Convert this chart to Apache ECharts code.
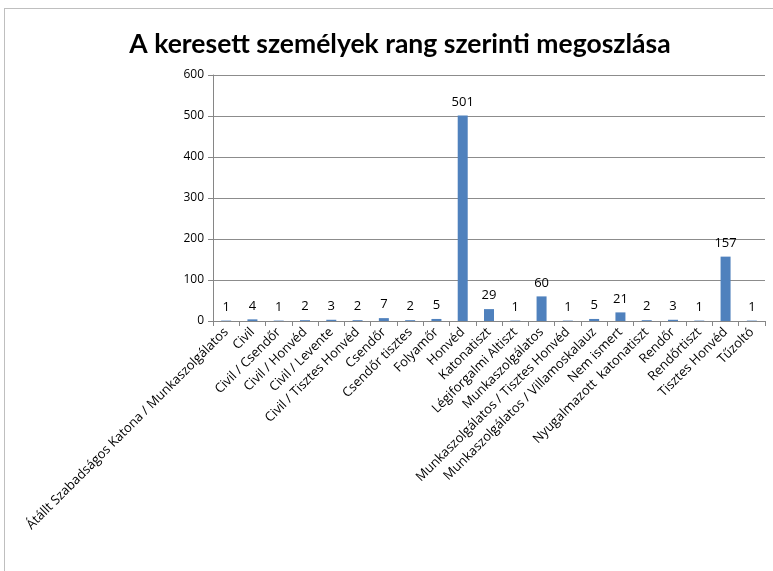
<!DOCTYPE html>
<html>
<head>
<meta charset="utf-8">
<script src="https://cdn.jsdelivr.net/npm/echarts@6/dist/echarts.min.js"></script>
<style>
  html, body { margin: 0; padding: 0; background: #fff; }
  .frame {
    position: absolute; left: 4px; top: 8px; width: 790px; height: 580px;
    border: 1px solid #bfbfbf; box-sizing: border-box;
  }
  #chart { position: absolute; left: 0; top: 0; width: 773px; height: 571px; }
</style>
</head>
<body>
<div class="frame"></div>
<div id="chart"></div>
<script>
const titleText = "A keresett személyek rang szerinti megoszlása";
const categories = [
  "Átállt Szabadságos Katona / Munkaszolgálatos",
  "Civil",
  "Civil / Csendőr",
  "Civil / Honvéd",
  "Civil / Levente",
  "Civil / Tisztes Honvéd",
  "Csendőr",
  "Csendőr tisztes",
  "Folyamőr",
  "Honvéd",
  "Katonatiszt",
  "Légiforgalmi Altiszt",
  "Munkaszolgálatos",
  "Munkaszolgálatos / Tisztes Honvéd",
  "Munkaszolgálatos / Villamoskalauz",
  "Nem ismert",
  "Nyugalmazott  katonatiszt",
  "Rendőr",
  "Rendőrtiszt",
  "Tisztes Honvéd",
  "Tűzoltó"
];
const counts = [1, 4, 1, 2, 3, 2, 7, 2, 5, 501, 29, 1, 60, 1, 5, 21, 2, 3, 1, 157, 1];

const chart = echarts.init(document.getElementById("chart"));
const options = {
  animation: false,
  title: {
    text: titleText,
    left: 395,
    textAlign: "center",
    top: 26,
    textStyle: { fontFamily: "Lato", fontWeight: "bold", fontSize: 26.5, color: "#000" }
  },
  grid: { left: 213, top: 75, width: 552, height: 246, containLabel: false },
  xAxis: {
    type: "category",
    data: categories,
    axisLine: { lineStyle: { color: "#868686" } },
    axisTick: { show: true, alignWithLabel: false, length: 5, lineStyle: { color: "#868686" } },
    axisLabel: {
      interval: 0,
      rotate: 45,
      margin: 9,
      fontFamily: "Open Sans",
      fontSize: 13,
      color: "#000"
    }
  },
  yAxis: {
    type: "value",
    min: 0,
    max: 600,
    interval: 100,
    axisLine: { show: true, lineStyle: { color: "#868686" } },
    axisTick: { show: true, length: 5, lineStyle: { color: "#868686" } },
    splitLine: { lineStyle: { color: "#8c8c8c" } },
    axisLabel: { fontFamily: "Open Sans", fontSize: 12, color: "#000", margin: 9 }
  },
  series: [
    {
      type: "bar",
      data: counts,
      barWidth: 10,
      itemStyle: { color: "#4F81BD" },
      label: {
        show: true,
        position: "top",
        distance: 7,
        fontFamily: "Open Sans",
        fontSize: 13,
        color: "#000"
      }
    }
  ]
};
chart.setOption(options);
</script>
</body>
</html>
